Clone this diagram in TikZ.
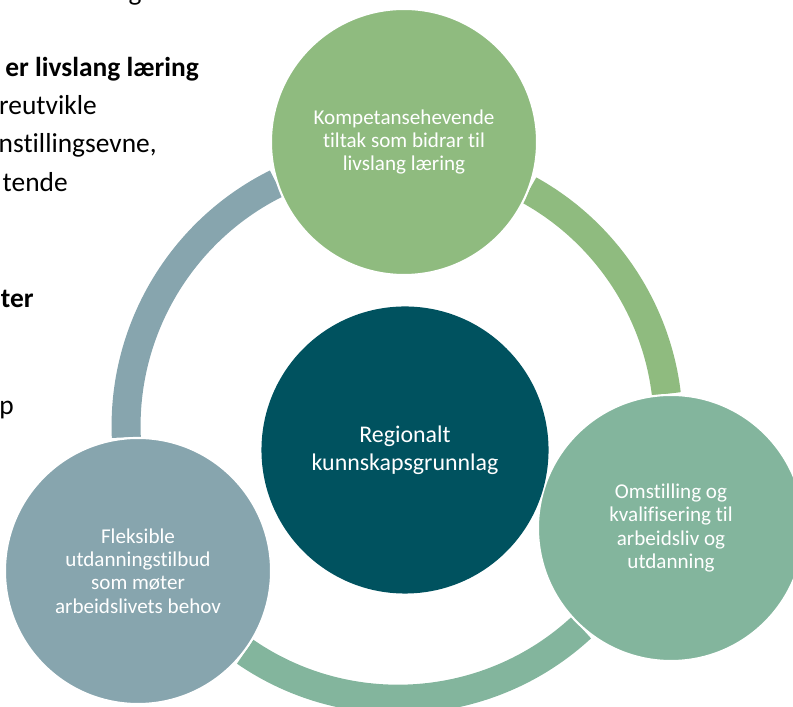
\documentclass[tikz,border=0pt]{standalone}
\usepackage{fontspec}
\setmainfont{Carlito}[Ligatures=NoCommon]
\usetikzlibrary{backgrounds}
\definecolor{kgreen}{HTML}{8FBB7F}
\definecolor{ogreen}{HTML}{83B59D}
\definecolor{fgrey}{HTML}{87A5AE}
\definecolor{kteal}{HTML}{00525F}
\tikzstyle{stage}=[
	circle,
	minimum size=6.65cm,
	inner sep=0pt,
	draw=white,
	line width=1.5pt,
	text=white,
	align=center,
	font=\fontsize{15}{16.7}\selectfont
]
\tikzstyle{core}=[
	circle,
	minimum size=7.175cm,
	inner sep=0pt,
	fill=kteal,
	text=white,
	align=center,
	font=\fontsize{17}{19.8}\selectfont
]
\tikzstyle{ringlink}=[
	line width=0.725cm
]
\tikzstyle{pagetext}=[
	anchor=base east,
	inner sep=0pt,
	font=\fontsize{19.5}{27}\selectfont
]

\begin{document}
\begin{tikzpicture}[x=0.025cm, y=0.025cm]
\useasboundingbox (0,0) rectangle (793,707);
\clip (0,0) rectangle (793,707);
% cut-off text of the page on the left
\node [pagetext, anchor=base] (LineTop) at (135,706) {g};
\node [pagetext] (LineOne) at (199,630) {\bfseries er livslang læring};
\node [pagetext] (LineTwo) at (97,592) {reutvikle};
\node [pagetext] (LineThree) at (157,554) {nstillingsevne,};
\node [pagetext] (LineFour) at (68,515) {tende};
\node [pagetext] (LineFive) at (34,399) {\bfseries ter};
\node [pagetext] (LineSix) at (14,292) {p};
% the cycle
\node [stage, fill=kgreen] (Kompetanse) at (404,565) {Kompetansehevende\\tiltak som bidrar til\\livslang læring};
\node [stage, fill=ogreen] (Omstilling) at (671,179) {Omstilling og\\kvalifisering til\\arbeidsliv og\\utdanning};
\node [stage, fill=fgrey] (Fleksible) at (138,136) {Fleksible\\utdanningstilbud\\som møter\\arbeidslivets behov};
\node [core] (Kunnskap) at (405,257) {Regionalt\\kunnskapsgrunnlag};
\begin{scope}[on background layer]
\clip (0,0) rectangle (793,707);
\draw [ringlink, draw=kgreen] (Kompetanse.-21.5) to [bend left=27.1, looseness=0.9] (Omstilling.92.2);
\draw [ringlink, draw=ogreen] (Omstilling.-132.3) to [bend left=38.7, looseness=0.956] (Fleksible.-37.3);
\draw [ringlink, draw=fgrey] (Fleksible.95.1) to [bend left=33.05, looseness=0.926] (Kompetanse.198.6);
\end{scope}
\end{tikzpicture}
\end{document}
